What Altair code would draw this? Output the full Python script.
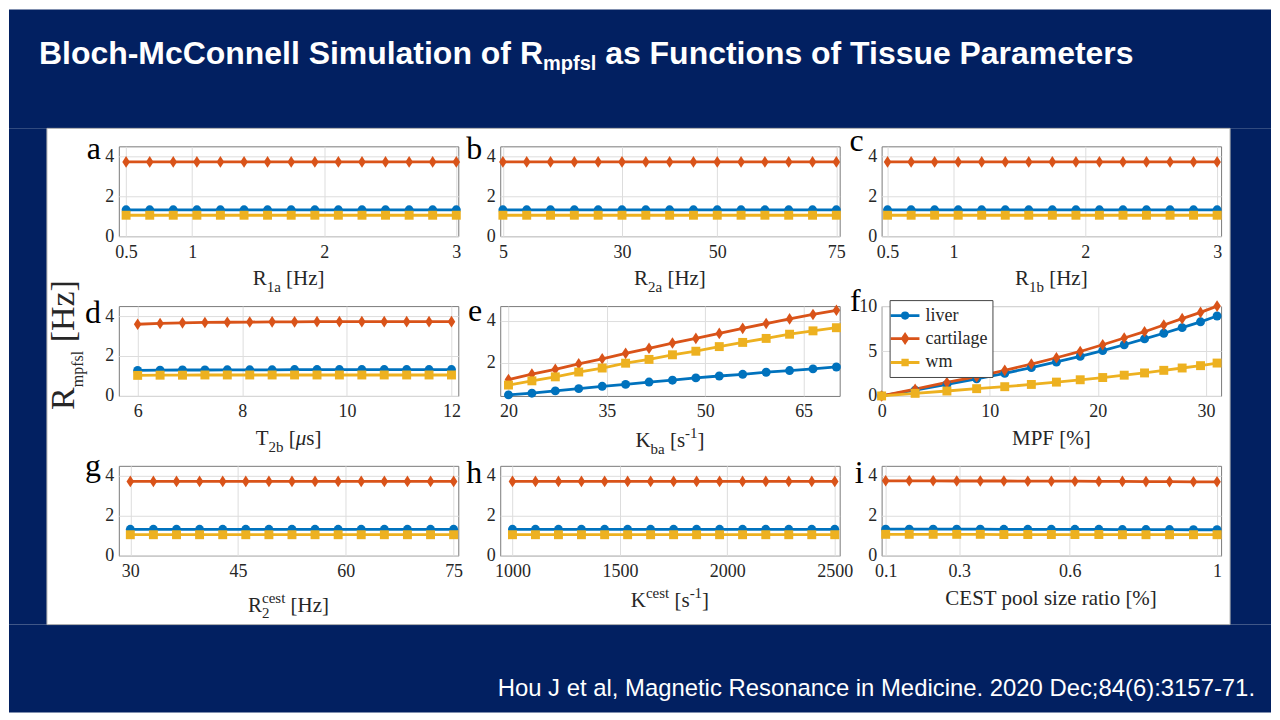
import altair as alt
import pandas as pd

# ---------------- data ----------------
SERIES = ["liver", "cartilage", "wm"]
COLORS = ["#0072BD", "#D95319", "#EDB120"]

# (a) R1a [Hz]
a_x = [0.5, 0.679, 0.857, 1.036, 1.214, 1.393, 1.571, 1.75, 1.929, 2.107, 2.286, 2.464, 2.643, 2.821, 3.0]
a_liver = [1.32, 1.32, 1.32, 1.32, 1.32, 1.32, 1.32, 1.32, 1.32, 1.32, 1.32, 1.32, 1.32, 1.32, 1.32]
a_cart = [3.72, 3.72, 3.72, 3.72, 3.72, 3.72, 3.72, 3.72, 3.72, 3.72, 3.72, 3.72, 3.72, 3.72, 3.72]
a_wm = [1.05, 1.05, 1.05, 1.05, 1.05, 1.05, 1.05, 1.05, 1.05, 1.05, 1.05, 1.05, 1.05, 1.05, 1.05]
a_ticks = [0.5, 1, 2, 3]

# (b) R2a [Hz]
b_x = [5, 10, 15, 20, 25, 30, 35, 40, 45, 50, 55, 60, 65, 70, 75]
b_liver = [1.32, 1.32, 1.32, 1.32, 1.32, 1.32, 1.32, 1.32, 1.32, 1.32, 1.32, 1.32, 1.32, 1.32, 1.32]
b_cart = [3.72, 3.72, 3.72, 3.72, 3.72, 3.72, 3.72, 3.72, 3.72, 3.72, 3.72, 3.72, 3.72, 3.72, 3.72]
b_wm = [1.05, 1.05, 1.05, 1.05, 1.05, 1.05, 1.05, 1.05, 1.05, 1.05, 1.05, 1.05, 1.05, 1.05, 1.05]
b_ticks = [5, 30, 50, 75]

# (c) R1b [Hz]
c_x = [0.5, 0.679, 0.857, 1.036, 1.214, 1.393, 1.571, 1.75, 1.929, 2.107, 2.286, 2.464, 2.643, 2.821, 3.0]
c_liver = [1.32, 1.32, 1.32, 1.32, 1.32, 1.32, 1.32, 1.32, 1.32, 1.32, 1.32, 1.32, 1.32, 1.32, 1.32]
c_cart = [3.72, 3.72, 3.72, 3.72, 3.72, 3.72, 3.72, 3.72, 3.72, 3.72, 3.72, 3.72, 3.72, 3.72, 3.72]
c_wm = [1.05, 1.05, 1.05, 1.05, 1.05, 1.05, 1.05, 1.05, 1.05, 1.05, 1.05, 1.05, 1.05, 1.05, 1.05]
c_ticks = [0.5, 1, 2, 3]

# (d) T2b [us]
d_x = [6, 6.429, 6.857, 7.286, 7.714, 8.143, 8.571, 9, 9.429, 9.857, 10.286, 10.714, 11.143, 11.571, 12]
d_liver = [1.28, 1.29, 1.30, 1.30, 1.31, 1.31, 1.31, 1.32, 1.32, 1.32, 1.32, 1.32, 1.32, 1.32, 1.32]
d_cart = [3.59, 3.63, 3.66, 3.68, 3.69, 3.70, 3.71, 3.71, 3.72, 3.72, 3.72, 3.72, 3.72, 3.72, 3.72]
d_wm = [1.03, 1.04, 1.04, 1.05, 1.05, 1.05, 1.05, 1.05, 1.05, 1.05, 1.05, 1.05, 1.05, 1.05, 1.05]
d_ticks = [6, 8, 10, 12]

# (e) Kba [s^-1]
e_x = [20, 23.57, 27.14, 30.71, 34.29, 37.86, 41.43, 45, 48.57, 52.14, 55.71, 59.29, 62.86, 66.43, 70]
e_liver = [0.47, 0.55, 0.66, 0.77, 0.88, 0.97, 1.08, 1.17, 1.28, 1.37, 1.45, 1.55, 1.63, 1.71, 1.80]
e_cart = [1.20, 1.46, 1.69, 1.95, 2.19, 2.45, 2.69, 2.94, 3.16, 3.40, 3.64, 3.87, 4.09, 4.30, 4.50]
e_wm = [0.94, 1.14, 1.33, 1.56, 1.75, 1.98, 2.16, 2.38, 2.55, 2.77, 2.97, 3.16, 3.36, 3.52, 3.67]
e_ticks = [20, 35, 50, 65]

# (f) MPF [%]
f_x = [0, 3.1, 6.04, 8.79, 11.39, 13.85, 16.17, 18.37, 20.45, 22.44, 24.32, 26.1, 27.8, 29.5, 31.03]
f_liver = [0, 0.65, 1.28, 1.9, 2.52, 3.15, 3.78, 4.4, 5.05, 5.7, 6.35, 6.98, 7.6, 8.25, 8.9]
f_cart = [0, 0.75, 1.5, 2.15, 2.85, 3.55, 4.25, 4.95, 5.7, 6.45, 7.15, 7.9, 8.6, 9.3, 10.0]
f_wm = [0, 0.29, 0.55, 0.81, 1.03, 1.28, 1.54, 1.8, 2.05, 2.31, 2.56, 2.85, 3.11, 3.37, 3.66]
f_ticks = [0, 10, 20, 30]

# (g) R2cest [Hz]
g_x = [30, 33.21, 36.43, 39.64, 42.86, 46.07, 49.29, 52.5, 55.71, 58.93, 62.14, 65.36, 68.57, 71.79, 75]
g_liver = [1.32, 1.32, 1.32, 1.32, 1.32, 1.32, 1.32, 1.32, 1.32, 1.32, 1.32, 1.32, 1.32, 1.32, 1.32]
g_cart = [3.72, 3.72, 3.72, 3.72, 3.72, 3.72, 3.72, 3.72, 3.72, 3.72, 3.72, 3.72, 3.72, 3.72, 3.72]
g_wm = [1.05, 1.05, 1.05, 1.05, 1.05, 1.05, 1.05, 1.05, 1.05, 1.05, 1.05, 1.05, 1.05, 1.05, 1.05]
g_ticks = [30, 45, 60, 75]

# (h) Kcest [s^-1]
h_x = [1000, 1107, 1214, 1321, 1429, 1536, 1643, 1750, 1857, 1964, 2071, 2179, 2286, 2393, 2500]
h_liver = [1.32, 1.32, 1.32, 1.32, 1.32, 1.32, 1.32, 1.32, 1.32, 1.32, 1.32, 1.32, 1.32, 1.32, 1.32]
h_cart = [3.72, 3.72, 3.72, 3.72, 3.72, 3.72, 3.72, 3.72, 3.72, 3.72, 3.72, 3.72, 3.72, 3.72, 3.72]
h_wm = [1.05, 1.05, 1.05, 1.05, 1.05, 1.05, 1.05, 1.05, 1.05, 1.05, 1.05, 1.05, 1.05, 1.05, 1.05]
h_ticks = [1000, 1500, 2000, 2500]

# (i) CEST pool size ratio [%]
i_x = [0.1, 0.164, 0.229, 0.293, 0.357, 0.421, 0.486, 0.55, 0.614, 0.679, 0.743, 0.807, 0.871, 0.936, 1.0]
i_liver = [1.33, 1.33, 1.33, 1.33, 1.33, 1.32, 1.32, 1.32, 1.32, 1.32, 1.31, 1.31, 1.31, 1.30, 1.30]
i_cart = [3.75, 3.75, 3.75, 3.74, 3.74, 3.74, 3.73, 3.73, 3.73, 3.72, 3.72, 3.71, 3.71, 3.70, 3.70]
i_wm = [1.07, 1.07, 1.07, 1.07, 1.07, 1.06, 1.06, 1.06, 1.06, 1.06, 1.05, 1.05, 1.05, 1.05, 1.05]
i_ticks = [0.1, 0.3, 0.6, 1]

FLAT_Y_TICKS = [0, 2, 4]
E_Y_TICKS = [2, 4]
F_Y_TICKS = [0, 5, 10]

TITLE_MAIN = "Bloch-McConnell Simulation of "
TITLE_R = "R"
TITLE_SUB = "mpfsl"
TITLE_REST = " as Functions of Tissue Parameters"
CITATION = "Hou J et al, Magnetic Resonance in Medicine. 2020 Dec;84(6):3157-71."

# ---------------- style ----------------
NAVY = "#022061"
SERIF = "Liberation Serif"
SANS = "Liberation Sans"
TXT = "#262626"
GRID = "#dddddd"
W, H = 340, 90
ONE = alt.Data(values=[{"k": 0}])

TIMES = {' ': 250, '[': 333, ']': 333, '%': 833, '-': 333, '1': 500, '2': 500,
         'R': 667, 'T': 611, 'K': 722, 'M': 889, 'P': 556, 'F': 556, 'C': 667,
         'E': 611, 'S': 556, 'H': 722, 'a': 444, 'b': 500, 'c': 444, 'e': 444,
         'f': 333, 'i': 278, 'l': 278, 'm': 778, 'o': 500, 'p': 500, 'r': 333,
         's': 389, 't': 278, 'z': 444, 'μ': 500}
ARIALB = {'B': 722, 'l': 278, 'o': 611, 'c': 556, 'h': 611, '-': 333, 'M': 833,
          'C': 722, 'n': 611, 'e': 556, ' ': 278, 'S': 667, 'i': 278, 'm': 889,
          'u': 611, 'a': 556, 't': 333, 'f': 333, 'R': 722, 's': 556, 'F': 611,
          'T': 611, 'P': 667, 'r': 389, 'p': 611}


def tw(s, table, size):
    return sum(table.get(ch, 500) for ch in s) * size / 1000.0


def txt(text, x, y, size, font=SERIF, color=TXT, dx=0.0, dy=0.0, align="left",
        angle=None, weight=None, style=None):
    kw = dict(text=text, font=font, fontSize=size, color=color, align=align,
              baseline="alphabetic", dx=round(dx, 2), dy=round(dy, 2))
    if angle is not None:
        kw["angle"] = angle
    if weight:
        kw["fontWeight"] = weight
    if style:
        kw["fontStyle"] = style
    return alt.Chart(ONE).mark_text(**kw).encode(x=alt.value(x), y=alt.value(y))


def rich(pieces, x, y, table, font=SERIF, color=TXT, anchor="center", angle=None, weight=None):
    # pieces: (text, size, shift, style, advance)
    total = sum(tw(p[0], table, p[1]) for p in pieces if p[4])
    start = -total / 2 if anchor == "center" else 0.0
    layers = []
    cur = start
    for text, size, shift, style, adv in pieces:
        body = text.strip()
        lead = tw(text[:len(text) - len(text.lstrip())], table, size)
        if body:
            layers.append(txt(body, x, y, size, font=font, color=color, dx=cur + lead, dy=shift,
                              angle=angle, weight=weight, style=style))
        if adv:
            cur += tw(text, table, size)
    return layers


M, S = 21, 15
def P(t, kind="m", adv=True):
    if kind == "m":
        return (t, M, 0, None, adv)
    if kind == "it":
        return (t, M, 0, "italic", adv)
    if kind == "sub":
        return (t, S, 7, None, adv)
    if kind == "sup":
        return (t, S, -9, None, adv)
    if kind == "sub2":
        return (t, S, 6, None, adv)
    if kind == "sup2":
        return (t, S, -9, None, adv)


TITLES = {
    "a": [P("R"), P("1a", "sub"), P(" [Hz]")],
    "b": [P("R"), P("2a", "sub"), P(" [Hz]")],
    "c": [P("R"), P("1b", "sub"), P(" [Hz]")],
    "d": [P("T"), P("2b", "sub"), P(" ["), P("μ", "it"), P("s]")],
    "e": [P("K"), P("ba", "sub"), P(" [s"), P("-1", "sup"), P("]")],
    "f": [P("MPF [%]")],
    "g": [P("R"), P("2", "sub2", adv=False), P("cest", "sup2"), P(" [Hz]")],
    "h": [P("K"), P("cest", "sup"), P(" [s"), P("-1", "sup"), P("]")],
    "i": [P("CEST pool size ratio [%]")],
}

color_scale = alt.Scale(domain=SERIES, range=COLORS)
shape_scale = alt.Scale(domain=SERIES, range=["circle", "M0,-1.3L0.85,0L0,1.3L-0.85,0Z", "square"])
size_scale = alt.Scale(domain=SERIES, range=[80, 80, 50])
# legend symbols: a line segment with the series marker in its middle
legend_shapes = alt.Scale(domain=SERIES, range=[
    "M-1.6,0L1.6,0M0.3,0A0.3,0.3 0 1 1 -0.3,0A0.3,0.3 0 1 1 0.3,0Z",
    "M-1.6,0L1.6,0M0,-0.45L0.3,0L0,0.45L-0.3,0Z",
    "M-1.6,0L1.6,0M-0.25,-0.25L0.25,-0.25L0.25,0.25L-0.25,0.25Z",
])


def panel(letter, xs, liver, cart, wm, xdom, xticks, ydom, yticks, letter_y, title_y,
          before=(), after=(), legend=False, letter_x=-18):
    df = pd.DataFrame({
        "x": xs + xs + xs,
        "y": liver + cart + wm,
        "series": [SERIES[0]] * len(xs) + [SERIES[1]] * len(xs) + [SERIES[2]] * len(xs),
    })
    xaxis = alt.Axis(values=xticks, title=None, grid=True, ticks=False, domain=False,
                     labelFont=SERIF, labelFontSize=18, labelColor=TXT, labelPadding=7,
                     labelFlush=False, labelOverlap=False, labelExpr="'' + datum.value",
                     gridColor=GRID, gridWidth=1)
    yaxis = alt.Axis(values=yticks, title=None, grid=True, ticks=False, domain=False,
                     labelFont=SERIF, labelFontSize=18, labelColor=TXT, labelPadding=5,
                     labelFlush=False, labelOverlap=False, labelExpr="'' + datum.value",
                     gridColor=GRID, gridWidth=1)
    X = alt.X("x:Q", scale=alt.Scale(domain=xdom, zero=False, nice=False), axis=xaxis)
    Y = alt.Y("y:Q", scale=alt.Scale(domain=ydom, zero=False, nice=False), axis=yaxis)
    lines = alt.Chart(df).mark_line(strokeWidth=2.8).encode(
        x=X, y=Y, color=alt.Color("series:N", scale=color_scale, legend=None))
    pts = alt.Chart(df).mark_point(filled=True, opacity=1).encode(
        x=X, y=Y,
        color=alt.Color("series:N", scale=color_scale, legend=None),
        shape=alt.Shape("series:N", scale=shape_scale, legend=None),
        size=alt.Size("series:N", scale=size_scale, legend=None))
    layers = list(before) + [lines, pts]
    if legend:
        leg = alt.Legend(orient="none", legendX=8, legendY=-6, title=None,
                         symbolSize=324, symbolStrokeWidth=2.8, symbolOpacity=1,
                         labelFont=SERIF, labelFontSize=18, labelColor=TXT, labelOffset=10,
                         padding=5, rowPadding=3, strokeColor="#444444", fillColor="white",
                         zindex=1, labelLimit=0)
        leg_layer = alt.Chart(df).mark_point(filled=True, opacity=1, strokeWidth=2.8).encode(
            x=X, y=Y,
            fill=alt.Fill("series:N", scale=color_scale, legend=leg),
            stroke=alt.Stroke("series:N", scale=color_scale, legend=leg),
            shape=alt.Shape("series:N", scale=legend_shapes, legend=leg),
        ).transform_filter("false")
        layers.append(leg_layer)
    layers.append(txt(letter, letter_x, letter_y, 32, color="#000000", align="right"))
    layers += rich(TITLES[letter], W / 2, title_y, TIMES)
    layers += list(after)
    ch = alt.layer(*layers).properties(width=W, height=H)
    if legend:
        ch = ch.resolve_scale(shape="independent", fill="independent", stroke="independent")
    return ch


# ---------- slide decorations (relative to panel a plot origin) ----------
def rect(x0, x1, y0, y1, fill=NAVY, stroke=None):
    kw = dict(fill=fill)
    if stroke:
        kw = dict(fill=fill, stroke=stroke, strokeWidth=1, fillOpacity=0)
    return alt.Chart(ONE).mark_rect(**kw).encode(
        x=alt.value(x0), x2=alt.value(x1), y=alt.value(y0), y2=alt.value(y1))

frame = [
    rect(-110, 1154, -137, -18),
    rect(-110, -72, -18, 479),
    rect(1113, 1154, -18, 479),
    rect(-110, 1154, 479, 567),
    rect(-72, 1113, -18, 479, fill="white", stroke="#b0b0b0"),
]
title_layers = rich([(TITLE_MAIN, 32, 0, None, True), (TITLE_R, 32, 0, None, True),
                     (TITLE_SUB, 20, 6, None, True), (TITLE_REST, 32, 0, None, True)],
                    -80, -82, ARIALB, font=SANS, color="white", anchor="left", weight="bold")
ytitle_pieces = [("R", 34, 0, None, True), ("mpfsl", 16, 9, None, True), (" [Hz]", 34, 0, None, True)]
ytot = sum(tw(p[0], TIMES, p[1]) for p in ytitle_pieces)
ytitle_layers = rich(ytitle_pieces, -45, 199 + ytot / 2, TIMES, color=TXT, anchor="left", angle=270)
cite = [txt(CITATION, 1138, 551, 23.9, font=SANS, color="white", align="right")]

FLAT = [0, 4.5]
pa = panel("a", a_x, a_liver, a_cart, a_wm, [0.445, 3.015], a_ticks, FLAT, FLAT_Y_TICKS, 13, 139,
           before=frame, after=title_layers + ytitle_layers + cite)
pb = panel("b", b_x, b_liver, b_cart, b_wm, [4.44, 75.7], b_ticks, FLAT, FLAT_Y_TICKS, 13, 139)
pc = panel("c", c_x, c_liver, c_cart, c_wm, [0.455, 3.03], c_ticks, FLAT, FLAT_Y_TICKS, 5, 139)
pd_ = panel("d", d_x, d_liver, d_cart, d_wm, [5.64, 12.13], d_ticks, FLAT, FLAT_Y_TICKS, 17, 139)
pe = panel("e", e_x, e_liver, e_cart, e_wm, [18.74, 70.5], e_ticks, [0.42, 4.7], E_Y_TICKS, 15, 141)
pf = panel("f", f_x, f_liver, f_cart, f_wm, [0, 31.4], f_ticks, [0, 10], F_Y_TICKS, 5, 139,
           legend=True, letter_x=-21)
pg = panel("g", g_x, g_liver, g_cart, g_wm, [28.4, 75.65], g_ticks, FLAT, FLAT_Y_TICKS, 10, 146)
ph = panel("h", h_x, h_liver, h_cart, h_wm, [943, 2523], h_ticks, FLAT, FLAT_Y_TICKS, 17, 141)
pi = panel("i", i_x, i_liver, i_cart, i_wm, [0.089, 1.011], i_ticks, FLAT, FLAT_Y_TICKS, 17, 139)

chart = alt.concat(pa, pb, pc, pd_, pe, pf, pg, ph, pi, columns=3,
                   spacing={"row": 70, "column": 42}, bounds="flush").properties(
    padding=0, background="white"
).configure_view(fill="white", stroke="#7a7a7a", strokeWidth=1)

chart.save("out.html", embed_options={"renderer": "svg", "actions": False})
